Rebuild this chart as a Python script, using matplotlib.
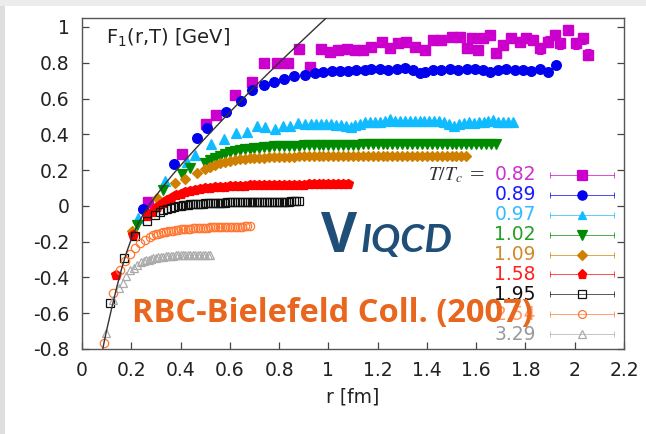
import matplotlib
matplotlib.use("Agg")
import matplotlib.pyplot as plt
from matplotlib.patches import Rectangle

# ---------------- data ----------------
XTICKS = [0, 0.2, 0.4, 0.6, 0.8, 1.0, 1.2, 1.4, 1.6, 1.8, 2.0, 2.2]
XTICKLABELS = ["0", "0.2", "0.4", "0.6", "0.8", "1", "1.2", "1.4", "1.6", "1.8", "2", "2.2"]
YTICKS = [-0.8, -0.6, -0.4, -0.2, 0, 0.2, 0.4, 0.6, 0.8, 1.0]
YTICKLABELS = ["-0.8", "-0.6", "-0.4", "-0.2", "0", "0.2", "0.4", "0.6", "0.8", "1"]

# T=0 reference curve
r_curve = [0.080, 0.090, 0.100, 0.120, 0.141, 0.161, 0.181, 0.201, 0.228, 0.256, 0.283,
           0.323, 0.364, 0.404, 0.452, 0.506, 0.573, 0.641, 0.709, 0.770, 0.830, 0.900,
           0.960, 1.000, 1.030]
F_curve = [-0.83, -0.76, -0.695, -0.575, -0.455, -0.35, -0.26, -0.182, -0.098, -0.03, 0.025,
           0.098, 0.168, 0.232, 0.306, 0.387, 0.485, 0.582, 0.677, 0.760, 0.840, 0.932,
           1.010, 1.061, 1.10]

# T/Tc = 0.82
r_082 = [0.268, 0.405, 0.503, 0.543, 0.620, 0.690, 0.740, 0.790, 0.835, 0.880, 0.925, 0.970,
         1.006, 1.040, 1.074, 1.107, 1.141, 1.175, 1.216, 1.249, 1.283, 1.317, 1.351, 1.391,
         1.425, 1.459, 1.500, 1.533, 1.561, 1.581, 1.608, 1.628, 1.655, 1.682, 1.709, 1.743,
         1.777, 1.804, 1.831, 1.858, 1.892, 1.919, 1.939, 1.973, 2.007, 2.034, 2.054]
F_082 = [0.02, 0.29, 0.46, 0.507, 0.618, 0.692, 0.798, 0.798, 0.798, 0.879, 0.776, 0.879,
         0.862, 0.872, 0.875, 0.872, 0.872, 0.89, 0.918, 0.881, 0.909, 0.918, 0.89, 0.872,
         0.927, 0.927, 0.946, 0.946, 0.881, 0.937, 0.872, 0.937, 0.955, 0.853, 0.899, 0.937,
         0.918, 0.937, 0.927, 0.881, 0.918, 0.955, 0.909, 0.983, 0.909, 0.937, 0.844]
E_082 = [0.005, 0.005, 0.006, 0.006, 0.008, 0.008, 0.01, 0.01, 0.012, 0.022, 0.02, 0.018,
         0.015, 0.015, 0.015, 0.015, 0.015, 0.018, 0.02, 0.02, 0.02, 0.02, 0.02, 0.02,
         0.025, 0.025, 0.025, 0.025, 0.025, 0.02, 0.025, 0.02, 0.025, 0.025, 0.025, 0.025,
         0.025, 0.025, 0.025, 0.03, 0.03, 0.03, 0.03, 0.03, 0.03, 0.03, 0.03]

# T/Tc = 0.89
r_089 = [0.249, 0.373, 0.468, 0.508, 0.583, 0.644, 0.692, 0.740, 0.780, 0.821, 0.861, 0.905,
         0.945, 0.979, 1.013, 1.047, 1.080, 1.114, 1.148, 1.175, 1.209, 1.243, 1.277, 1.310,
         1.344, 1.370, 1.391, 1.425, 1.459, 1.493, 1.527, 1.561, 1.594, 1.628, 1.655, 1.689,
         1.723, 1.757, 1.790, 1.824, 1.858, 1.892, 1.923]
F_089 = [-0.015, 0.234, 0.379, 0.433, 0.522, 0.588, 0.650, 0.674, 0.690, 0.711, 0.724, 0.730,
         0.742, 0.748, 0.754, 0.752, 0.754, 0.758, 0.761, 0.767, 0.763, 0.761, 0.763, 0.770,
         0.758, 0.742, 0.748, 0.758, 0.761, 0.763, 0.758, 0.763, 0.767, 0.758, 0.748, 0.761,
         0.767, 0.761, 0.758, 0.754, 0.767, 0.748, 0.786]

# T/Tc = 0.97
r_097 = [0.228, 0.337, 0.425, 0.458, 0.523, 0.576, 0.627, 0.668, 0.709, 0.742, 0.783, 0.817,
         0.844, 0.877, 0.905,
         0.93, 0.95, 0.97, 0.99, 1.01, 1.03, 1.05, 1.07, 1.09, 1.11,
         1.13, 1.15, 1.17, 1.19, 1.21, 1.23, 1.25, 1.27, 1.29, 1.31,
         1.33, 1.35, 1.37, 1.39, 1.41, 1.43, 1.45, 1.47, 1.49, 1.51,
         1.53, 1.55, 1.57, 1.59, 1.61, 1.63, 1.65, 1.67, 1.69, 1.71,
         1.73, 1.75]
F_097 = [-0.07, 0.139, 0.243, 0.286, 0.344, 0.374, 0.408, 0.412, 0.444, 0.440, 0.427, 0.446,
         0.446, 0.462, 0.457,
         0.455, 0.458, 0.457, 0.455, 0.457, 0.452, 0.450, 0.446, 0.442, 0.450,
         0.458, 0.466, 0.470, 0.468, 0.470, 0.475, 0.486, 0.476, 0.474, 0.475,
         0.473, 0.476, 0.474, 0.475, 0.472, 0.476, 0.474, 0.470, 0.455, 0.446,
         0.458, 0.464, 0.466, 0.464, 0.468, 0.470, 0.474, 0.479, 0.470, 0.466,
         0.470, 0.466]

# T/Tc = 1.02
r_102 = [0.222, 0.327, 0.404, 0.438, 0.499,
         0.52, 0.54, 0.56, 0.58, 0.60,
         0.62, 0.64, 0.66, 0.68, 0.70, 0.72, 0.74, 0.76, 0.78, 0.80,
         0.82, 0.84, 0.86, 0.88, 0.90, 0.92, 0.94, 0.96, 0.98, 1.00,
         1.02, 1.04, 1.06, 1.08, 1.10, 1.12, 1.14, 1.16, 1.18, 1.20,
         1.22, 1.24, 1.26, 1.28, 1.30, 1.32, 1.34, 1.36, 1.38, 1.40,
         1.42, 1.44, 1.46, 1.48, 1.50, 1.52, 1.54, 1.56, 1.58, 1.60,
         1.62, 1.64, 1.66, 1.68]
F_102 = [-0.106, 0.089, 0.180, 0.210, 0.240,
         0.258, 0.268, 0.280, 0.292, 0.302,
         0.307, 0.312, 0.316, 0.320, 0.323, 0.326, 0.328, 0.330, 0.332, 0.333,
         0.334, 0.335, 0.336, 0.337, 0.338, 0.338, 0.339, 0.339, 0.340, 0.340,
         0.341, 0.341, 0.341, 0.342, 0.342, 0.342, 0.343, 0.343, 0.343, 0.343,
         0.344, 0.344, 0.344, 0.344, 0.344, 0.345, 0.345, 0.345, 0.345, 0.345,
         0.345, 0.345, 0.346, 0.346, 0.346, 0.346, 0.346, 0.346, 0.346, 0.346,
         0.346, 0.347, 0.347, 0.347]

# T/Tc = 1.09
r_109 = [0.201, 0.303, 0.377, 0.418, 0.468,
         0.50, 0.52, 0.54, 0.56, 0.58, 0.60, 0.62, 0.64, 0.66, 0.68,
         0.70, 0.72, 0.74, 0.76, 0.78, 0.80, 0.82, 0.84, 0.86, 0.88,
         0.90, 0.92, 0.94, 0.96, 0.98, 1.00,
         1.02, 1.04, 1.06, 1.08, 1.10, 1.12, 1.14, 1.16, 1.18, 1.20,
         1.22, 1.24, 1.26, 1.28, 1.30, 1.32, 1.34, 1.36, 1.38, 1.40,
         1.42, 1.44, 1.46, 1.48, 1.50, 1.52, 1.54, 1.56]
F_109 = [-0.143, 0.043, 0.126, 0.150, 0.186,
         0.205, 0.217, 0.228, 0.237, 0.245, 0.251, 0.256, 0.260, 0.263, 0.265,
         0.267, 0.269, 0.270, 0.271, 0.272, 0.273, 0.274, 0.275, 0.275, 0.276,
         0.276, 0.277, 0.277, 0.277, 0.278, 0.278,
         0.278, 0.278, 0.279, 0.279, 0.279, 0.279, 0.279, 0.280, 0.280, 0.280,
         0.280, 0.280, 0.280, 0.280, 0.281, 0.281, 0.281, 0.281, 0.281, 0.281,
         0.281, 0.281, 0.281, 0.281, 0.281, 0.281, 0.281, 0.281]

# T/Tc = 1.58
r_158 = [0.138, 0.208, 0.262, 0.283, 0.305, 0.327, 0.345, 0.36,
         0.38, 0.40, 0.42, 0.44, 0.46, 0.48, 0.50, 0.52, 0.54, 0.56,
         0.58, 0.60, 0.62, 0.64, 0.66, 0.68, 0.70, 0.72, 0.74, 0.76,
         0.78, 0.80, 0.82, 0.84, 0.86, 0.88, 0.90, 0.92, 0.94, 0.96,
         0.98, 1.00, 1.02, 1.04, 1.06, 1.08]
F_158 = [-0.384, -0.162, -0.055, -0.035, -0.008, 0.018, 0.035, 0.045,
         0.058, 0.068, 0.076, 0.083, 0.089, 0.094, 0.098, 0.101, 0.104, 0.106,
         0.108, 0.110, 0.111, 0.112, 0.113, 0.114, 0.115, 0.116, 0.116, 0.117,
         0.117, 0.118, 0.118, 0.118, 0.119, 0.119, 0.119, 0.120, 0.120, 0.120,
         0.120, 0.121, 0.121, 0.121, 0.121, 0.122]

# T/Tc = 1.95
r_195 = [0.114, 0.170, 0.215, 0.262, 0.296, 0.315, 0.33, 0.345, 0.36, 0.375, 0.39,
         0.40, 0.41, 0.42, 0.43, 0.44, 0.45, 0.46, 0.47, 0.48, 0.49,
         0.50, 0.51, 0.52, 0.53, 0.54, 0.55, 0.56, 0.57, 0.58, 0.59,
         0.60, 0.61, 0.62, 0.63, 0.64, 0.65, 0.66, 0.67, 0.68, 0.69,
         0.70, 0.71, 0.72, 0.73, 0.74, 0.75, 0.76, 0.77, 0.78, 0.79,
         0.80, 0.81, 0.82, 0.83, 0.84, 0.85, 0.86, 0.87, 0.88]
F_195 = [-0.545, -0.29, -0.17, -0.085, -0.05, -0.036, -0.025, -0.017, -0.01, -0.005, 0.0,
         0.002, 0.004, 0.006, 0.007, 0.008, 0.009, 0.010, 0.011, 0.012, 0.013,
         0.014, 0.015, 0.015, 0.016, 0.016, 0.017, 0.017, 0.018, 0.018, 0.019,
         0.019, 0.020, 0.020, 0.020, 0.021, 0.021, 0.021, 0.021, 0.022, 0.022,
         0.022, 0.022, 0.022, 0.023, 0.023, 0.023, 0.023, 0.023, 0.023, 0.024,
         0.024, 0.024, 0.024, 0.024, 0.024, 0.025, 0.025, 0.025, 0.025]

# T/Tc = 2.54
r_254 = [0.089, 0.127, 0.154, 0.174, 0.195, 0.215, 0.235, 0.255, 0.275, 0.29,
         0.30, 0.31, 0.32, 0.33, 0.34, 0.35, 0.36, 0.37, 0.38, 0.39,
         0.40, 0.41, 0.42, 0.43, 0.44, 0.45, 0.46, 0.47, 0.48, 0.49,
         0.50, 0.51, 0.52, 0.53, 0.54, 0.55, 0.56, 0.57, 0.58, 0.59,
         0.60, 0.61, 0.62, 0.63, 0.64, 0.65, 0.66, 0.67, 0.68]
F_254 = [-0.769, -0.486, -0.36, -0.31, -0.27, -0.235, -0.21, -0.19, -0.175, -0.165,
         -0.159, -0.155, -0.151, -0.148, -0.145, -0.142, -0.140, -0.138, -0.136, -0.134,
         -0.132, -0.131, -0.129, -0.128, -0.127, -0.126, -0.125, -0.124, -0.123, -0.122,
         -0.121, -0.121, -0.120, -0.120, -0.119, -0.119, -0.118, -0.118, -0.118, -0.117,
         -0.117, -0.117, -0.116, -0.116, -0.116, -0.116, -0.115, -0.115, -0.115]

# T/Tc = 3.29
r_329 = [0.097, 0.127, 0.150, 0.165, 0.180, 0.195, 0.21, 0.225, 0.24,
         0.25, 0.26, 0.27, 0.28, 0.29, 0.30, 0.31, 0.32, 0.33, 0.34,
         0.35, 0.36, 0.37, 0.38, 0.39, 0.40, 0.41, 0.42, 0.43, 0.44,
         0.45, 0.46, 0.47, 0.48, 0.49, 0.50, 0.51, 0.52]
F_329 = [-0.709, -0.524, -0.46, -0.43, -0.39, -0.36, -0.345, -0.328, -0.316,
         -0.310, -0.305, -0.301, -0.297, -0.294, -0.291, -0.288, -0.286, -0.284, -0.282,
         -0.280, -0.279, -0.278, -0.277, -0.276, -0.275, -0.275, -0.274, -0.274, -0.274,
         -0.274, -0.274, -0.275, -0.275, -0.276, -0.276, -0.277, -0.277]

LABELS = ["0.82", "0.89", "0.97", "1.02", "1.09", "1.58", "1.95", "2.54", "3.29"]

# ---------------- styles ----------------
styles = [
    dict(marker="s", color="#cc00cc", mfc="#cc00cc", ms=7.0, lab="#cc33cc"),
    dict(marker="o", color="#0000ee", mfc="#0000ee", ms=7.0, lab="#1a1aff"),
    dict(marker="^", color="#11bbff", mfc="#11bbff", ms=6.5, lab="#33bbff"),
    dict(marker="v", color="#008a00", mfc="#008a00", ms=7.0, lab="#22a022"),
    dict(marker="D", color="#d08000", mfc="#d08000", ms=5.5, lab="#d08a2a"),
    dict(marker="p", color="#ff0000", mfc="#ff0000", ms=7.0, lab="#ff2020"),
    dict(marker="s", color="#111111", mfc="none", ms=6.0, lab="#111111"),
    dict(marker="o", color="#ff7733", mfc="none", ms=6.0, lab="#ff9a66"),
    dict(marker="^", color="#aaaaaa", mfc="none", ms=6.0, lab="#999999"),
]
series = [(r_082, F_082), (r_089, F_089), (r_097, F_097), (r_102, F_102), (r_109, F_109),
          (r_158, F_158), (r_195, F_195), (r_254, F_254), (r_329, F_329)]

W, H = 646, 434
fig = plt.figure(figsize=(W / 100, H / 100), dpi=100)
fig.patch.set_facecolor("white")
# slide frame: grey strip at the left and at the top
fig.add_artist(Rectangle((0, 0), 5 / W, 1, transform=fig.transFigure,
                         facecolor="#dedede", edgecolor="none", zorder=-5))
fig.add_artist(Rectangle((0, 1 - 6 / H), 1, 6 / H, transform=fig.transFigure,
                         facecolor="#ececec", edgecolor="none", zorder=-5))

ax = fig.add_axes([82 / W, 1 - 349 / H, 542 / W, 331 / H])
ax.set_xlim(0, 2.2)
ax.set_ylim(-0.8, 1.05)
ax.set_xticks(XTICKS)
ax.set_xticklabels(XTICKLABELS)
ax.set_yticks(YTICKS)
ax.set_yticklabels(YTICKLABELS)
ax.tick_params(direction="in", length=5, width=0.9, labelsize=13.5, right=True, top=False,
               pad=9, colors="#444444", labelcolor="#222222")
for s in ax.spines.values():
    s.set_color("#555555")
    s.set_linewidth(1.0)

for i, ((r, F), st) in enumerate(zip(series, styles)):
    n = min(len(r), len(F))
    if i == 0:
        m = min(n, len(E_082))
        ax.errorbar(r[:m], F[:m], yerr=E_082[:m], fmt=st["marker"], color=st["color"],
                    mfc=st["mfc"], ms=st["ms"], elinewidth=0.8, capsize=2, capthick=0.8,
                    zorder=3)
    else:
        ax.plot(r[:n], F[:n], ls="none", marker=st["marker"], color=st["color"],
                mfc=st["mfc"], mec=st["color"], ms=st["ms"], mew=0.9, zorder=3 + i * 0.1)

ax.plot(r_curve, F_curve, color="#333333", lw=1.0, zorder=6)

# legend (drawn by hand, gnuplot style)
y0, dy = 0.5257, 0.0601
xl, x1, x2, xm = 0.8376, 0.8635, 0.9815, 0.9225
for i, (lab, st) in enumerate(zip(LABELS, styles)):
    y = y0 - i * dy
    ax.text(xl, y, lab, color=st["lab"], ha="right", va="center", fontsize=13.5,
            transform=ax.transAxes, zorder=7)
    ax.plot([x1, x2], [y, y], color=st["color"], lw=0.7, alpha=0.7,
            transform=ax.transAxes, zorder=7)
    ax.plot([x1, x2], [y, y], ls="none", marker="|", ms=4, mew=0.7, color=st["color"],
            alpha=0.7, transform=ax.transAxes, zorder=7)
    ax.plot([xm], [y], ls="none", marker=st["marker"], color=st["color"], mfc=st["mfc"],
            mec=st["color"], ms=st["ms"] * 0.95, mew=0.9, transform=ax.transAxes, zorder=8)
ax.text(0.7435, y0, r"$T/T_c$ =", ha="right", va="center", fontsize=14,
        family="DejaVu Serif", math_fontfamily="stix", color="#333333",
        transform=ax.transAxes, zorder=7)

ax.text(0.044, 0.9396, r"F$_1$(r,T) [GeV]", ha="left", va="center", fontsize=14,
        color="#222222", transform=ax.transAxes)
fig.text(353 / W, 1 - 397 / H, "r [fm]", ha="center", va="center", fontsize=13.5,
         color="#222222")

# overlay slide texts
fig.text(321 / W, 1 - 252 / H, "V", fontsize=40, fontweight="bold", color="#1f4e79",
         family="Open Sans", va="baseline", ha="left", zorder=10)
fig.text(361 / W, 1 - 252 / H, "IQCD", fontsize=28, fontweight="bold", style="italic",
         color="#1f4e79", family="Lato", va="baseline", ha="left", zorder=10)
fig.text(132 / W, 1 - 321.7 / H, "RBC-Bielefeld Coll. (2007)", fontsize=23.5,
         fontweight="bold", color="#e8661e", family="Open Sans", va="baseline", ha="left",
         zorder=10)

fig.savefig("out.png", dpi=100, facecolor=fig.get_facecolor())
